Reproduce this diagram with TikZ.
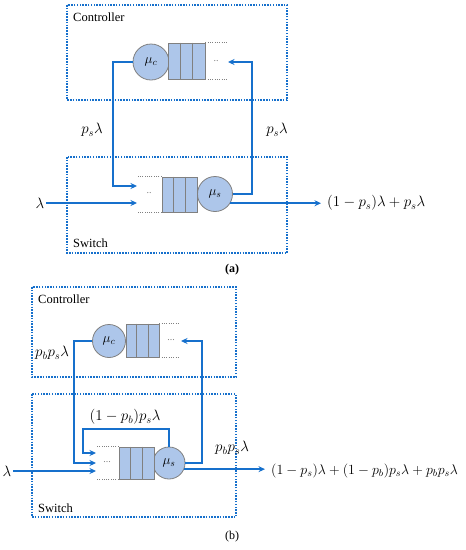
\documentclass[tikz,border=0pt]{standalone}
\usepackage{fix-cm}
\usepackage{fontspec}
\setmainfont{Liberation Serif}
\usetikzlibrary{arrows.meta,positioning,calc}
\definecolor{flowblue}{RGB}{22,112,204}
\definecolor{qfill}{RGB}{173,198,234}
\definecolor{qdraw}{RGB}{128,128,128}

\begin{document}
\begin{tikzpicture}[x=1pt,y=-1pt,>={Stealth[length=6.5pt,width=6pt]},
 region/.style={draw=flowblue,line width=1.5pt,dash pattern=on 1.5pt off 1.3pt},
 server/.style={circle,draw=qdraw,fill=qfill,line width=.8pt,minimum size=#1,inner sep=0,font=\fontsize{13.5}{15}\selectfont},
 buffer/.style={draw=qdraw,fill=qfill,line width=.8pt,inner sep=0},
 tail/.style={draw=qdraw,line width=.9pt,dash pattern=on 1pt off 1.3pt},
 flow/.style={->,draw=flowblue,line width=1.6pt},
 rate/.style={inner sep=2pt,font=\fontsize{15}{17}\selectfont},
 tag/.style={anchor=west,inner sep=0,font=\fontsize{12.5}{15}\selectfont},
 gap/.style={text=qdraw,inner sep=0,font=\fontsize{10}{12}\selectfont}]
\useasboundingbox (0,0) rectangle (466,550);

% ---------------- (a)
\draw[region] (67,5) rectangle (287,100);
\draw[region] (67,157) rectangle (287,253);
\node[tag] (ctrla) at (73,17) {Controller};
\node[tag] (swa) at (73,243) {Switch};
% controller queue
\node[server=36pt] (mca) at (151,62) {$\mu_c$};
\node[buffer,minimum width=37pt,minimum height=36pt] (qca) at (186.5,61) {};
\foreach \i in {1,2} \draw[qdraw,line width=.8pt] ($(qca.north west)!\i/3!(qca.north east)$) -- ($(qca.south west)!\i/3!(qca.south east)$);
\draw[tail] (qca.north east) -- ++(22,0);
\draw[tail] (qca.south east) -- ++(22,0);
\node[gap] (dca) at (216,61) {..};
\coordinate (ctina) at (228,62);
% switch queue
\node[server=35pt] (msa) at (215,194) {$\mu_s$};
\node[buffer,minimum width=35pt,minimum height=35pt] (qsa) at (179.5,194.5) {};
\foreach \i in {1,2} \draw[qdraw,line width=.8pt] ($(qsa.north west)!\i/3!(qsa.north east)$) -- ($(qsa.south west)!\i/3!(qsa.south east)$);
\draw[tail] (qsa.north west) -- ++(-24,0);
\draw[tail] (qsa.south west) -- ++(-24,0);
\node[gap] (dsa) at (149,193) {..};
\coordinate (swina1) at (137,186);
\coordinate (swina2) at (137,203);
% flows
\node[rate] (lama) at (40,203) {$\lambda$};
\node[rate,anchor=west] (outa) at (325,203) {$(1-p_s)\lambda+p_s\lambda$};
\node[rate] (upa) at (277,130) {$p_s\lambda$};
\node[rate] (downa) at (92,130) {$p_s\lambda$};
\draw[flow] (msa.east) -| (252,62) -- (ctina);
\draw[flow] (mca.west) -| (113,186) -- (swina1);
\draw[flow] (lama.east) -- (swina2);
\draw[flow,shorten >=4pt] (msa.-31) -- (msa.-31 -| outa.west);
\node[font=\fontsize{12}{14}\selectfont\bfseries] (capa) at (232,270) {(a)};

% ---------------- (b)
\draw[region] (32,287) rectangle (236,377);
\draw[region] (32,394) rectangle (236,517);
\node[tag] (ctrlb) at (38,299) {Controller};
\node[tag] (swb) at (38,508) {Switch};
% controller queue
\node[server=33pt] (mcb) at (109,341) {$\mu_c$};
\node[buffer,minimum width=33pt,minimum height=33pt] (qcb) at (142.5,340.5) {};
\foreach \i in {1,2} \draw[qdraw,line width=.8pt] ($(qcb.north west)!\i/3!(qcb.north east)$) -- ($(qcb.south west)!\i/3!(qcb.south east)$);
\draw[tail] (qcb.north east) -- ++(20,0);
\draw[tail] (qcb.south east) -- ++(20,0);
\node[gap] (dcb) at (171,340) {...};
\coordinate (ctinb) at (181,341);
% switch queue
\node[server=32pt] (msb) at (169,463) {$\mu_s$};
\node[buffer,minimum width=35pt,minimum height=32pt] (qsb) at (136.5,463) {};
\foreach \i in {1,2} \draw[qdraw,line width=.8pt] ($(qsb.north west)!\i/3!(qsb.north east)$) -- ($(qsb.south west)!\i/3!(qsb.south east)$);
\draw[tail] (qsb.north west) -- ++(-22,0);
\draw[tail] (qsb.south west) -- ++(-22,0);
\node[gap] (dsb) at (107,462) {...};
\coordinate (swinb1) at (96,453);
\coordinate (swinb2) at (96,463);
\coordinate (swinb3) at (96,471);
% flows
\node[rate] (lamb) at (7,471) {$\lambda$};
\node[rate,anchor=west,font=\fontsize{14}{17}\selectfont] (outb) at (269,471) {$(1-p_s)\lambda+(1-p_b)p_s\lambda+p_bp_s\lambda$};
\node[rate] (loopb) at (125,417) {$(1-p_b)p_s\lambda$};
\node[rate] (upb) at (232,448) {$p_bp_s\lambda$};
\node[rate] (downb) at (52,353) {$p_bp_s\lambda$};
\draw[flow] (msb.north) |- (83,429) |- (swinb1);
\draw[flow] (msb.east) -| (202,341) -- (ctinb);
\draw[flow] (mcb.west) -| (74,463) -- (swinb2);
\draw[flow] (lamb.east) -- (swinb3);
\draw[flow,shorten >=4pt] (msb.-22) -- (msb.-22 -| outb.west);
\node[font=\fontsize{12}{14}\selectfont] (capb) at (232,537) {(b)};
\end{tikzpicture}
\end{document}
